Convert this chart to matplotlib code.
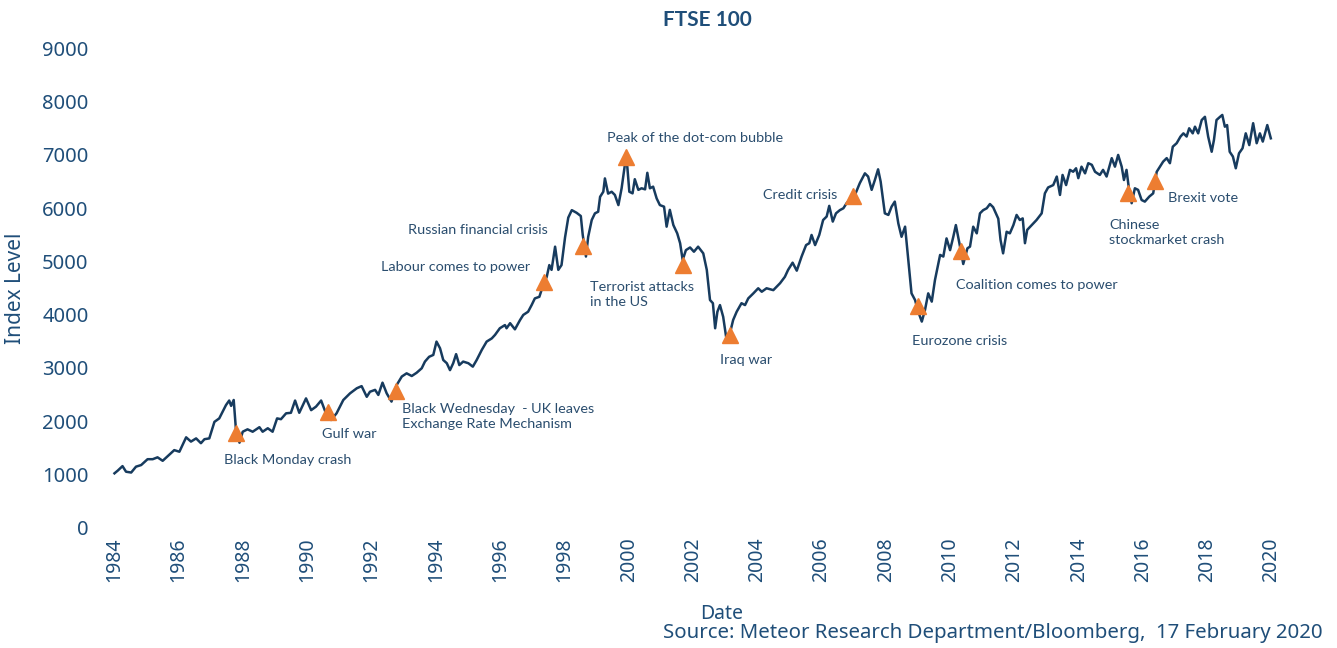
import matplotlib
matplotlib.use("Agg")
import matplotlib.pyplot as plt

# FTSE 100 index level
years = [
    1984.00, 1984.10, 1984.25, 1984.36, 1984.52, 1984.67, 1984.83, 1985.03, 1985.19, 1985.34,
    1985.50, 1985.66, 1985.86, 1986.02, 1986.23, 1986.38, 1986.54, 1986.69, 1986.80, 1986.95,
    1987.11, 1987.26, 1987.47, 1987.57, 1987.63, 1987.71, 1987.78, 1987.89, 1987.99, 1988.14,
    1988.30, 1988.51, 1988.61, 1988.77, 1988.92, 1989.06, 1989.18, 1989.34, 1989.49, 1989.62,
    1989.75, 1989.96, 1990.12, 1990.27, 1990.43, 1990.58, 1990.74, 1990.91, 1991.12, 1991.33,
    1991.54, 1991.69, 1991.85, 1991.95, 1992.11, 1992.21, 1992.34, 1992.47, 1992.62, 1992.78,
    1992.94, 1993.09, 1993.25, 1993.40, 1993.56, 1993.66, 1993.79, 1993.92, 1994.02, 1994.13,
    1994.23, 1994.34, 1994.44, 1994.54, 1994.63, 1994.73, 1994.85, 1995.01, 1995.15, 1995.27,
    1995.43, 1995.58, 1995.74, 1995.84, 1995.99, 1996.15, 1996.20, 1996.31, 1996.46, 1996.62,
    1996.72, 1996.87, 1996.98, 1997.08, 1997.22, 1997.34, 1997.45, 1997.53, 1997.60, 1997.71,
    1997.81, 1997.91, 1998.02, 1998.12, 1998.23, 1998.38, 1998.51, 1998.57, 1998.67, 1998.74,
    1998.85, 1998.95, 1999.05, 1999.11, 1999.21, 1999.26, 1999.36, 1999.47, 1999.57, 1999.68,
    1999.78, 1999.88, 1999.94, 2000.02, 2000.12, 2000.19, 2000.30, 2000.40, 2000.51, 2000.58,
    2000.66, 2000.76, 2000.87, 2000.97, 2001.10, 2001.18, 2001.28, 2001.39, 2001.51, 2001.60,
    2001.68, 2001.78, 2001.91, 2002.03, 2002.16, 2002.32, 2002.43, 2002.53, 2002.62, 2002.69,
    2002.76, 2002.84, 2002.94, 2003.03, 2003.15, 2003.25, 2003.36, 2003.51, 2003.62, 2003.72,
    2003.88, 2004.03, 2004.14, 2004.29, 2004.50, 2004.71, 2004.86, 2004.96, 2005.10, 2005.23,
    2005.38, 2005.52, 2005.62, 2005.69, 2005.80, 2005.93, 2006.05, 2006.16, 2006.24, 2006.35,
    2006.45, 2006.57, 2006.68, 2006.78, 2006.88, 2007.04, 2007.19, 2007.35, 2007.45, 2007.56,
    2007.66, 2007.76, 2007.84, 2007.97, 2008.08, 2008.18, 2008.28, 2008.39, 2008.49, 2008.60,
    2008.70, 2008.80, 2008.91, 2009.01, 2009.12, 2009.22, 2009.32, 2009.43, 2009.53, 2009.69,
    2009.79, 2009.89, 2010.00, 2010.10, 2010.18, 2010.29, 2010.41, 2010.54, 2010.62, 2010.72,
    2010.83, 2010.93, 2011.03, 2011.14, 2011.24, 2011.34, 2011.50, 2011.57, 2011.65, 2011.76,
    2011.86, 2011.97, 2012.07, 2012.17, 2012.26, 2012.33, 2012.40, 2012.54, 2012.69, 2012.85,
    2012.95, 2013.05, 2013.21, 2013.32, 2013.42, 2013.50, 2013.61, 2013.73, 2013.83, 2013.92,
    2013.99, 2014.09, 2014.20, 2014.30, 2014.41, 2014.51, 2014.66, 2014.76, 2014.87, 2015.03,
    2015.13, 2015.23, 2015.34, 2015.41, 2015.49, 2015.57, 2015.65, 2015.75, 2015.85, 2015.96,
    2016.06, 2016.20, 2016.32, 2016.43, 2016.53, 2016.63, 2016.74, 2016.84, 2016.93, 2017.05,
    2017.17, 2017.26, 2017.36, 2017.44, 2017.55, 2017.62, 2017.72, 2017.83, 2017.93, 2018.03,
    2018.14, 2018.21, 2018.29, 2018.40, 2018.47, 2018.55, 2018.62, 2018.70, 2018.80, 2018.89,
    2018.99, 2019.10, 2019.20, 2019.31, 2019.43, 2019.54, 2019.64, 2019.73, 2019.87, 2019.98,
]
index_level = [
    1025, 1075, 1160, 1055, 1040, 1150, 1180, 1290, 1290, 1325,
    1260, 1350, 1460, 1430, 1700, 1620, 1680, 1590, 1665, 1680,
    1990, 2055, 2305, 2390, 2290, 2400, 1840, 1600, 1805, 1850,
    1805, 1890, 1805, 1870, 1805, 2055, 2040, 2150, 2160, 2390,
    2160, 2430, 2210, 2275, 2390, 2150, 2025, 2150, 2400, 2525,
    2620, 2660, 2460, 2555, 2590, 2495, 2725, 2525, 2370, 2680,
    2840, 2900, 2850, 2910, 2995, 3120, 3210, 3245, 3495, 3370,
    3150, 3090, 2960, 3090, 3260, 3055, 3120, 3090, 3025, 3150,
    3340, 3495, 3555, 3620, 3745, 3805, 3745, 3840, 3725, 3900,
    3995, 4055, 4180, 4305, 4335, 4555, 4710, 4930, 4840, 5275,
    4840, 4930, 5450, 5820, 5960, 5910, 5850, 5495, 5090, 5460,
    5775, 5900, 5930, 6210, 6305, 6555, 6270, 6305, 6245, 6055,
    6370, 6805, 6900, 6305, 6275, 6540, 6340, 6370, 6350, 6660,
    6370, 6400, 6180, 6055, 6025, 5650, 5965, 5680, 5525, 5340,
    5025, 5210, 5260, 5180, 5275, 5150, 4840, 4275, 4215, 3745,
    4055, 4180, 3960, 3590, 3650, 3900, 4055, 4215, 4180, 4305,
    4400, 4495, 4430, 4495, 4460, 4590, 4710, 4840, 4975, 4825,
    5090, 5305, 5340, 5495, 5305, 5495, 5775, 5840, 6040, 5745,
    5900, 5960, 5995, 6090, 6150, 6245, 6465, 6650, 6590, 6340,
    6525, 6725, 6495, 5900, 5870, 6025, 6120, 5710, 5460, 5650,
    5025, 4400, 4275, 4055, 3870, 4090, 4400, 4245, 4650, 5120,
    5090, 5430, 5210, 5460, 5680, 5340, 4950, 5245, 5275, 5650,
    5525, 5900, 5960, 5995, 6075, 6015, 5800, 5400, 5150, 5555,
    5525, 5680, 5870, 5775, 5805, 5340, 5590, 5680, 5775, 5900,
    6275, 6385, 6430, 6590, 6245, 6620, 6430, 6715, 6680, 6745,
    6560, 6775, 6650, 6840, 6810, 6680, 6620, 6715, 6590, 6935,
    6775, 6995, 6775, 6525, 6715, 6340, 6090, 6370, 6340, 6150,
    6120, 6215, 6275, 6680, 6775, 6870, 6935, 6840, 7150, 7215,
    7340, 7400, 7340, 7495, 7400, 7525, 7400, 7650, 7710, 7340,
    7055, 7275, 7650, 7710, 7745, 7525, 7555, 7055, 6965, 6745,
    7025, 7120, 7400, 7180, 7590, 7215, 7400, 7245, 7555, 7307,
]

event_years = [1987.78, 1990.64, 1992.76, 1997.36, 1998.58, 1999.92, 2001.69,
               2003.15, 2006.98, 2009.00, 2010.34, 2015.54, 2016.38]
event_values = [1780, 2175, 2570, 4610, 5290, 6955, 4930,
                3620, 6225, 4160, 5195, 6280, 6505]
event_labels = [
    "Black Monday crash",
    "Gulf war",
    "Black Wednesday  - UK leaves\nExchange Rate Mechanism",
    "Labour comes to power",
    "Russian financial crisis",
    "Peak of the dot-com bubble",
    "Terrorist attacks\nin the US",
    "Iraq war",
    "Credit crisis",
    "Eurozone crisis",
    "Coalition comes to power",
    "Chinese\nstockmarket crash",
    "Brexit vote",
]
# label placement (offset in pixels from marker, horizontal alignment)
label_offsets = [(-12, -27), (-6, -22), (6, -26), (-14, 15), (-35, 16), (-19, 19),
                 (-93, -29), (-10, -25), (-16, 1), (-6, -35), (-5, -34), (-19, -39), (13, -17)]
label_ha = ["left", "left", "left", "right", "right", "left",
            "left", "left", "right", "left", "left", "left", "left"]

year_ticks = list(range(1984, 2021, 2))
value_ticks = list(range(0, 9001, 1000))

navy = "#173b5e"
text_col = "#2a4d6e"
tick_col = "#1f4e79"
orange = "#ed7d31"

fig = plt.figure(figsize=(13.37, 6.48), dpi=100)
ax = fig.add_axes([0.0736, 0.1852, 0.8894, 0.7407])

ax.plot(years, index_level, color=navy, linewidth=1.8)
ax.plot(event_years, event_values, linestyle="none", marker="^", markersize=11,
        color=orange, zorder=3)

for x, y, lab, off, ha in zip(event_years, event_values, event_labels, label_offsets, label_ha):
    ax.annotate(lab, xy=(x, y), xytext=off, textcoords="offset pixels",
                ha=ha, va="center", fontsize=10.4, family="Lato", color=text_col,
                linespacing=1.3)

ax.set_xlim(1983.5, 2020.5)
ax.set_ylim(0, 9000)
ax.set_xticks(year_ticks)
ax.set_xticklabels([str(y) for y in year_ticks], rotation=90, family="Noto Sans",
                   fontsize=14, color=tick_col)
ax.set_yticks(value_ticks)
ax.set_yticklabels([str(v) for v in value_ticks], family="Noto Sans",
                   fontsize=14.5, color=tick_col)
ax.tick_params(length=0, pad=7)
for s in ax.spines.values():
    s.set_visible(False)

ax.set_ylabel("Index Level", family="Noto Sans", fontsize=15, color=tick_col, labelpad=12)

fig.text(707 / 1337, 1 - 20 / 648, "FTSE 100", ha="center", va="center",
         family="Lato", fontweight="bold", fontsize=15, color=tick_col)
fig.text(722 / 1337, 1 - 614 / 648, "Date", ha="center", va="center",
         family="Noto Sans", fontsize=14, color=tick_col)
fig.text(1323 / 1337, 1 - 633 / 648, "Source: Meteor Research Department/Bloomberg,  17 February 2020",
         ha="right", va="center", family="Noto Sans", fontsize=14.7, color=tick_col)

fig.savefig("out.png", dpi=100)
